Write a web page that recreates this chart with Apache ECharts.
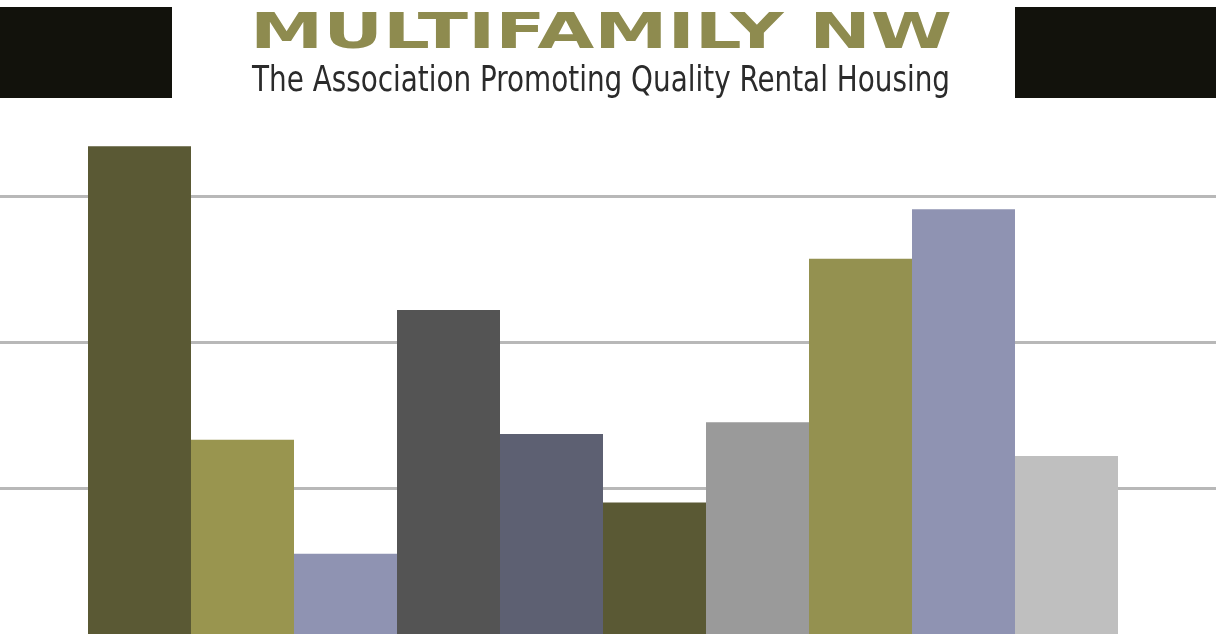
<!DOCTYPE html>
<html>
<head>
<meta charset="utf-8">
<title>Multifamily NW</title>
<script src="https://cdn.jsdelivr.net/npm/echarts@6/dist/echarts.min.js"></script>
<style>
  html, body { margin: 0; padding: 0; background: #fff; }
  #main { width: 1216px; height: 634px; }
</style>
</head>
<body>
<div id="main"></div>
<script>
// data (no axis labels shown, units = gridline steps)
var categories = ['1', '2', '3', '4', '5', '6', '7', '8', '9', '10'];
var values = [3.34, 1.33, 0.55, 2.22, 1.37, 0.90, 1.45, 2.57, 2.91, 1.22];
var yTicks = [0, 1, 2, 3];

// palette, one per bar
var barColors = ['#5a5934', '#99954f', '#8f93b2', '#545454', '#5d6072',
                 '#5a5934', '#9a9a9a', '#949150', '#8f93b2', '#bfbfbf'];

var titleText = 'MULTIFAMILY NW';
var subText = 'The Association Promoting Quality Rental Housing';

// stretch a text to a wanted width
function fitScale(str, font, width) {
  var c = document.createElement('canvas').getContext('2d');
  c.font = font;
  return width / c.measureText(str).width;
}
var titleFont = 'bold 50px "DejaVu Sans", sans-serif';
var subFont = '35px "DejaVu Sans Condensed", "Liberation Sans", sans-serif';
var titleScale = fitScale(titleText, titleFont, 702);
var subScale = fitScale(subText, subFont, 698);

var dom = document.getElementById('main');
var myChart = echarts.init(dom);

var barData = [];
for (var i = 0; i < values.length; i++) {
  barData.push({ value: values[i], itemStyle: { color: barColors[i] } });
}

var option = {
  animation: false,
  backgroundColor: '#ffffff',
  grid: [
    { left: 0, right: 0, top: 123, bottom: -2 },   // gridlines full width
    { left: 88, right: 98, top: 123, bottom: -2 }  // bars
  ],
  xAxis: [
    { type: 'category', gridIndex: 0, data: categories, show: false },
    {
      type: 'category', gridIndex: 1, data: categories,
      axisLine: { show: false }, axisTick: { show: false }, axisLabel: { show: false }
    }
  ],
  yAxis: [
    {
      type: 'value', gridIndex: 0, min: yTicks[0], max: 3.5, interval: 1,
      axisLine: { show: false }, axisTick: { show: false }, axisLabel: { show: false },
      splitLine: { show: true, showMinLine: false, showMaxLine: false,
                   lineStyle: { color: '#b8b8b8', width: 3 } }
    },
    {
      type: 'value', gridIndex: 1, min: yTicks[0], max: 3.5, interval: 1,
      axisLine: { show: false }, axisTick: { show: false }, axisLabel: { show: false },
      splitLine: { show: false }
    }
  ],
  series: [
    {
      type: 'bar',
      xAxisIndex: 1,
      yAxisIndex: 1,
      barWidth: '100%',
      barCategoryGap: 0,
      data: barData
    }
  ],
  graphic: [
    { type: 'rect', shape: { x: 0, y: 7, width: 172, height: 91 }, style: { fill: '#12120c' } },
    { type: 'rect', shape: { x: 1015, y: 7, width: 201, height: 91 }, style: { fill: '#12120c' } },
    {
      type: 'text', x: 250, y: 35, scaleX: titleScale,
      style: { text: titleText, font: titleFont, fill: '#8e8b4f', align: 'left', verticalAlign: 'middle' }
    },
    {
      type: 'text', x: 252, y: 82, scaleX: subScale,
      style: { text: subText, font: subFont, fill: '#2b2b2b', align: 'left', verticalAlign: 'middle' }
    }
  ]
};

myChart.setOption(option);
</script>
</body>
</html>
